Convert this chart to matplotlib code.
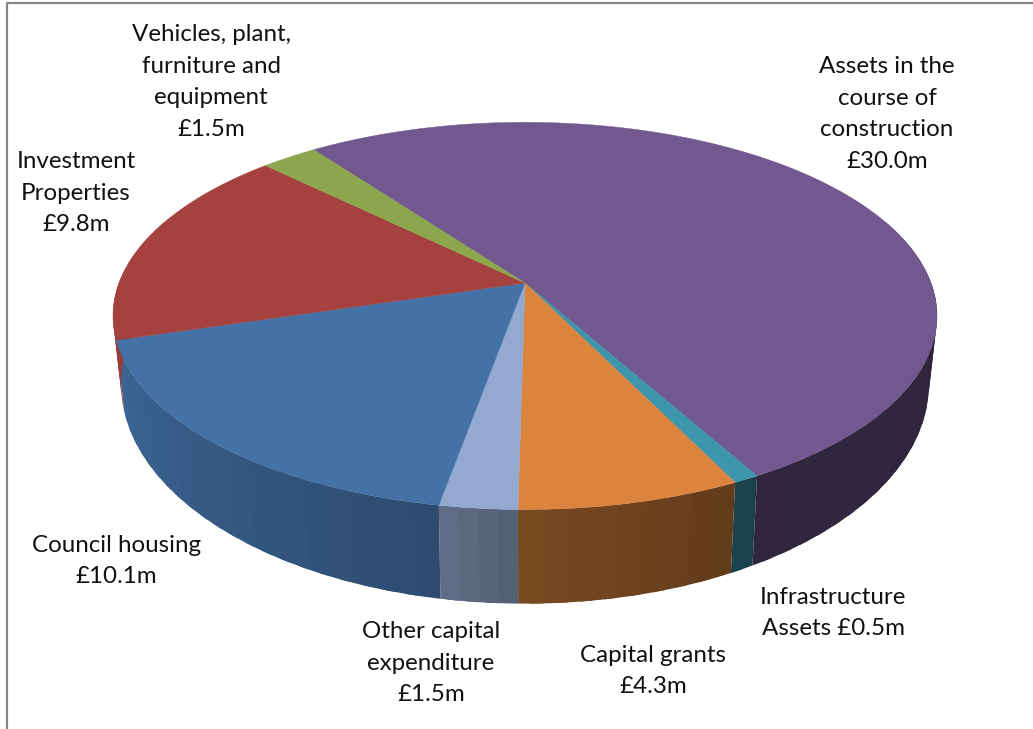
import matplotlib
matplotlib.use("Agg")
import matplotlib.pyplot as plt
import numpy as np
from matplotlib.colors import to_rgb
from matplotlib.patches import Polygon

plt.rcParams["font.family"] = ["Lato", "DejaVu Sans"]

# slices run clockwise from the back-left of the disc
CATEGORIES = [
    "Assets in the\ncourse of\nconstruction",
    "Infrastructure\nAssets",
    "Capital grants",
    "Other capital\nexpenditure",
    "Council housing",
    "Investment\nProperties",
    "Vehicles, plant,\nfurniture and\nequipment",
]
VALUES = [30.0, 0.5, 4.3, 1.5, 10.1, 9.8, 1.5]
COLORS = ["#71588f", "#3d96ae", "#db843d", "#93a9cf", "#4471a6", "#a5423f", "#8ba64d"]
VALUE_SEP = ["\n", " ", "\n", "\n", "\n", "\n", "\n"]
LABEL_POS = [(887, 114), (833, 613), (653, 671), (431, 663), (116, 561), (76, 193), (211, 82)]

START_ANGLE = -36.3
CX, CY = 525.0, 283.0
PERSP = 0.17
TOP_A, TOP_B = 406.0, 188.0
BOT_A, BOT_B, BOT_DROP = 398.0, 213.0, 64.0

# wall brightness by angle, dark on the right and lighter to the left
SHADE_ANGLES = [90, 150, 181, 192, 253, 280]
SHADE_LEVELS = [0.42, 0.43, 0.56, 0.67, 0.90, 0.92]


def project(theta, a, b, drop=0.0):
    t = np.radians(theta)
    u, v = np.sin(t), np.cos(t)
    d = 1 + PERSP * v
    return np.column_stack([CX + a * u / d, CY + drop - b * v / d])


fig = plt.figure(figsize=(10.33, 7.29), dpi=100)
ax = fig.add_axes([0, 0, 1, 1])
ax.set_xlim(0, 1033)
ax.set_ylim(729, 0)
ax.axis("off")

# chart frame, only the top and left edges fall inside the image
ax.plot([6.5, 6.5, 1033], [729, 3, 3], color="#868686", lw=1.6)

edges = START_ANGLE + np.concatenate([[0], np.cumsum(VALUES)]) / sum(VALUES) * 360

# side wall first; strips overlap the next one so no seams show
for i, col in enumerate(COLORS):
    lo, hi = max(edges[i], 70), min(edges[i + 1], 290)
    if hi <= lo:
        continue
    steps = np.linspace(lo, hi, max(2, int((hi - lo) / 3) + 2))
    for t0, t1 in zip(steps[:-1], steps[1:]):
        ts = np.linspace(t0, min(t1 + 1.5, hi), 6)
        top = project(ts, TOP_A, TOP_B)
        bot = project(ts, BOT_A, BOT_B, BOT_DROP)
        shade = np.interp((t0 + t1) / 2, SHADE_ANGLES, SHADE_LEVELS)
        rgb = np.array(to_rgb(col)) * shade
        ax.add_patch(Polygon(np.vstack([top, bot[::-1]]), facecolor=rgb, edgecolor="none"))

# top face
for i, col in enumerate(COLORS):
    ts = np.linspace(edges[i], edges[i + 1], 200)
    rim = project(ts, TOP_A, TOP_B)
    ax.add_patch(Polygon(np.vstack([[CX, CY], rim]), facecolor=col, edgecolor=col, lw=0.3))

for name, val, sep, (x, y) in zip(CATEGORIES, VALUES, VALUE_SEP, LABEL_POS):
    ax.text(x, y, f"{name}{sep}£{val:.1f}m", ha="center", va="center", ma="center",
            fontsize=17.4, linespacing=1.64, color="#111111")

fig.savefig("out.png", dpi=100)
